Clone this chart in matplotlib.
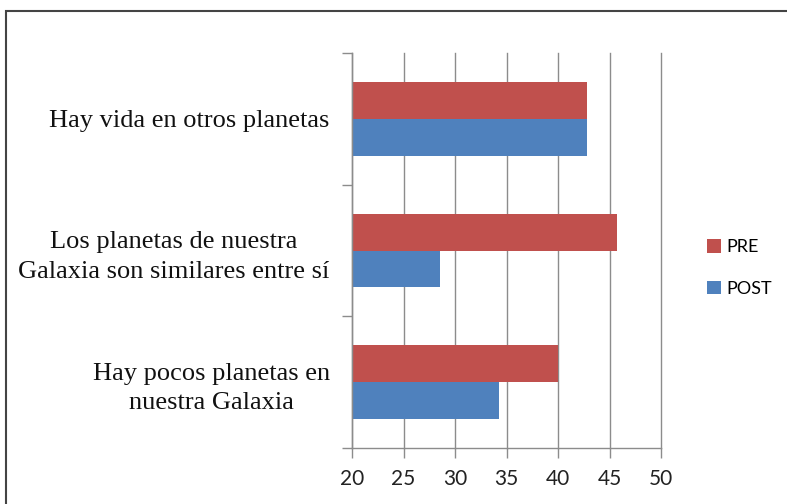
import matplotlib
matplotlib.use("Agg")
import matplotlib.pyplot as plt
from matplotlib.patches import Patch, Rectangle
import numpy as np

# === Data (percentages) ===
categories = ["Hay pocos planetas en\nnuestra Galaxia",
              "Los planetas de nuestra\nGalaxia son similares entre sí",
              "Hay vida en otros planetas"]
pre = [40.0, 45.71, 42.86]
post = [34.29, 28.57, 42.86]
series_names = ["PRE", "POST"]
xticks = [20, 25, 30, 35, 40, 45, 50]

red = "#C0504D"
blue = "#4F81BD"
grid_col = "#8C8C8C"

fig = plt.figure(figsize=(7.87, 5.04), dpi=100)
ax = fig.add_axes([352 / 787, 1 - 448 / 504, 309 / 787, 395 / 504])

y = np.arange(len(categories))
h = 0.28
ax.barh(y + h / 2, [v - 20 for v in pre], height=h, left=20, color=red, label="PRE")
ax.barh(y - h / 2, [v - 20 for v in post], height=h, left=20, color=blue, label="POST")

ax.set_xlim(20, 50)
ax.set_ylim(-0.5, len(categories) - 0.5)

# === Axes styling ===
ax.set_xticks(xticks)
ax.set_xticklabels([str(t) for t in xticks], fontfamily="Lato", fontsize=15, color="#222222")
ax.tick_params(axis="x", length=7, width=1, color=grid_col, pad=8)
ax.xaxis.grid(True, color=grid_col, linewidth=1)
for gl in ax.get_xgridlines():
    gl.set_clip_on(False)
ax.set_axisbelow(True)

ax.set_yticks(y)
ax.set_yticklabels(categories, fontfamily="Liberation Serif", fontsize=19, color="#111111")
for lab in ax.get_yticklabels():
    lab.set_multialignment("center")
    lab.set_linespacing(1.45)
ax.tick_params(axis="y", which="major", length=0, pad=16)
ax.set_yticks(np.arange(-0.5, len(categories), 1.0), minor=True)
ax.tick_params(axis="y", which="minor", length=7, width=1, color=grid_col)

for side in ["top", "right"]:
    ax.spines[side].set_visible(False)
for side in ["left", "bottom"]:
    ax.spines[side].set_color(grid_col)
    ax.spines[side].set_linewidth(1)

# === Legend ===
handles = [Patch(facecolor=red), Patch(facecolor=blue)]
fig.legend(handles, series_names, loc="center left", bbox_to_anchor=(707 / 787, 1 - 268 / 504),
           frameon=False, borderpad=0, borderaxespad=0,
           handlelength=0.75, handleheight=0.75, handletextpad=0.3,
           labelspacing=1.4, prop={"family": "Lato", "size": 13})

# outer frame
fig.patches.append(Rectangle((6 / 787, -0.05), 1.1, 0.05 + 1 - 11 / 504, transform=fig.transFigure,
                             fill=False, edgecolor="#444444", linewidth=1.5))

fig.savefig("out.png", dpi=100)
